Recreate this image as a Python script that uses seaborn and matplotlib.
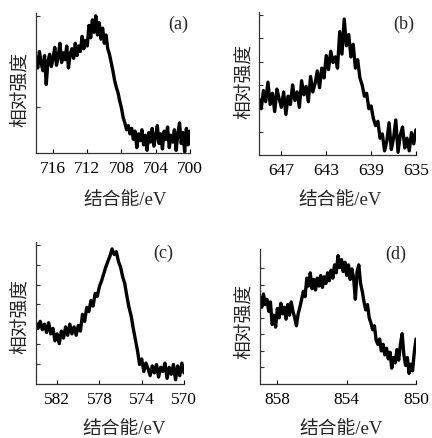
import numpy as np
import pandas as pd
import matplotlib
matplotlib.use("Agg")
import matplotlib.pyplot as plt
import seaborn as sns

# ---- spectra (relative intensity, 0..1) ----
# (a) 718 -> 700 eV, 0.2 eV step
a_range = (718.0, 700.0)
a_int = [0.70, 0.62, 0.74, 0.66, 0.60, 0.71, 0.50, 0.67, 0.72, 0.63,
         0.69, 0.77, 0.64, 0.70, 0.80, 0.66, 0.73, 0.68, 0.78, 0.62,
         0.72, 0.76, 0.69, 0.80, 0.71, 0.78, 0.74, 0.85, 0.76, 0.82,
         0.78, 0.93, 0.84, 0.97, 0.88, 1.00, 0.86, 0.95, 0.83, 0.91,
         0.80, 0.86, 0.76, 0.72, 0.66, 0.60, 0.53, 0.48, 0.44, 0.38,
         0.33, 0.26, 0.22, 0.17, 0.20, 0.14, 0.18, 0.10, 0.16, 0.04,
         0.14, 0.09, 0.17, 0.06, 0.13, 0.02, 0.15, 0.08, 0.18, 0.05,
         0.12, 0.20, 0.07, 0.14, 0.03, 0.16, 0.10, 0.19, 0.04, 0.13,
         0.08, 0.17, 0.02, 0.14, 0.22, 0.07, 0.15, 0.01, 0.18, 0.06,
         0.16]
# (b) 649 -> 635 eV, 0.2 eV step
b_range = (649.0, 635.0)
b_int = [0.40, 0.33, 0.46, 0.38, 0.52, 0.36, 0.44, 0.31, 0.47, 0.40,
         0.34, 0.45, 0.29, 0.42, 0.36, 0.50, 0.39, 0.45, 0.34, 0.53,
         0.43, 0.49, 0.38, 0.56, 0.45, 0.51, 0.60, 0.48, 0.62, 0.55,
         0.71, 0.61, 0.74, 0.66, 0.70, 0.62, 0.88, 0.72, 0.97, 0.78,
         0.86, 0.70, 0.79, 0.62, 0.68, 0.55, 0.50, 0.42, 0.44, 0.33,
         0.35, 0.26, 0.21, 0.24, 0.12, 0.15, 0.03, 0.10, 0.23, 0.04,
         0.12, 0.25, 0.02, 0.14, 0.20, 0.05, 0.12, 0.03, 0.16, 0.08,
         0.18]
# (c) 584 -> 570 eV, 0.2 eV step
c_range = (584.0, 570.0)
c_int = [0.44, 0.40, 0.45, 0.39, 0.43, 0.37, 0.44, 0.36, 0.40, 0.31,
         0.36, 0.29, 0.38, 0.33, 0.41, 0.35, 0.43, 0.36, 0.41, 0.35,
         0.42, 0.38, 0.50, 0.45, 0.55, 0.52, 0.60, 0.56, 0.65, 0.63,
         0.70, 0.74, 0.79, 0.84, 0.88, 0.92, 0.97, 0.93, 0.95, 0.88,
         0.84, 0.77, 0.72, 0.63, 0.55, 0.49, 0.40, 0.32, 0.24, 0.14,
         0.18, 0.09, 0.15, 0.11, 0.06, 0.13, 0.08, 0.14, 0.05, 0.12,
         0.09, 0.15, 0.04, 0.12, 0.07, 0.14, 0.03, 0.13, 0.06, 0.15,
         0.08]
# (d) 859 -> 850 eV, 0.1 eV step
d_range = (859.0, 850.0)
d_int = [0.66, 0.58, 0.68, 0.60, 0.64, 0.55, 0.62, 0.45, 0.52, 0.43,
         0.57, 0.50, 0.61, 0.53, 0.58, 0.49, 0.60, 0.52, 0.62, 0.55,
         0.50, 0.44, 0.53, 0.58, 0.64, 0.70, 0.66, 0.80, 0.74, 0.84,
         0.72, 0.79, 0.71, 0.80, 0.74, 0.82, 0.73, 0.81, 0.76, 0.84,
         0.78, 0.86, 0.80, 0.90, 0.84, 0.97, 0.88, 0.94, 0.85, 0.92,
         0.82, 0.90, 0.79, 0.87, 0.80, 0.64, 0.85, 0.90, 0.76, 0.70,
         0.62, 0.56, 0.60, 0.50, 0.46, 0.41, 0.44, 0.33, 0.30, 0.34,
         0.25, 0.30, 0.22, 0.27, 0.19, 0.24, 0.12, 0.20, 0.16, 0.26,
         0.18, 0.30, 0.38, 0.22, 0.14, 0.20, 0.08, 0.15, 0.10, 0.24,
         0.34]

a_ticks = [716, 712, 708, 704, 700]
b_ticks = [647, 643, 639, 635]
c_ticks = [582, 578, 574, 570]
d_ticks = [858, 854, 850]

XLABEL = "结合能/eV"
YLABEL = "相对强度"

sns.set_theme(style="ticks")
plt.rcParams.update({
    "font.family": ["Liberation Serif", "Noto Sans CJK SC"],
    "xtick.direction": "in", "ytick.direction": "in",
    "xtick.major.size": 3, "ytick.major.size": 3,
    "xtick.major.width": 0.8, "ytick.major.width": 0.8,
    "axes.edgecolor": "#333333", "axes.linewidth": 0.9,
    "axes.spines.top": False, "axes.spines.right": False,
})

fig = plt.figure(figsize=(4.32, 4.39), dpi=100)
fig.patch.set_facecolor("white")

panels = [
    # name, range, intensity, ticks, axes rect, ytick step, label pos, xlabel pos, ylabel pos
    ("(a)", a_range, a_int, a_ticks, [0.0833, 0.649, 0.356, 0.319], 1 / 3,
     (0.99, 0.93), (0.58, -0.33), (-0.105, 0.46)),
    ("(b)", b_range, b_int, b_ticks, [0.5995, 0.6446, 0.3634, 0.3257], 1 / 6,
     (0.99, 0.92), (0.52, -0.31), (-0.095, 0.52)),
    ("(c)", c_range, c_int, c_ticks, [0.0833, 0.123, 0.3426, 0.3235], 1 / 7,
     (0.93, 0.93), (0.595, -0.31), (-0.108, 0.48)),
    ("(d)", d_range, d_int, d_ticks, [0.6019, 0.123, 0.3611, 0.3075], 1 / 8,
     (0.94, 0.97), (0.52, -0.33), (-0.103, 0.47)),
]

for name, rng, inten, ticks, rect, ystep, lab, xl, yl in panels:
    ax = fig.add_axes(rect)
    df = pd.DataFrame({"E": np.linspace(rng[0], rng[1], len(inten)), "I": inten})
    sns.lineplot(data=df, x="E", y="I", ax=ax, color="black", lw=2.4)
    ax.set_xlim(rng[0], rng[1])
    ax.set_ylim(0, 1.02)
    ax.set_xticks(ticks)
    ax.set_xticklabels([str(t) for t in ticks], fontsize=12.5)
    ax.set_yticks(np.arange(ystep, 1.0, ystep))
    ax.set_yticklabels([])
    ax.tick_params(axis="x", pad=5, colors="black")
    ax.tick_params(axis="y", colors="#333333")
    ax.set_xlabel(XLABEL, fontsize=13.5, va="center")
    ax.set_ylabel(YLABEL, fontsize=13.5, va="center")
    ax.xaxis.set_label_coords(*xl)
    ax.yaxis.set_label_coords(*yl)
    ax.text(lab[0], lab[1], name, transform=ax.transAxes, ha="right", va="center",
            fontsize=13)
    ax.set_facecolor("white")

fig.savefig("out.png", dpi=100)
